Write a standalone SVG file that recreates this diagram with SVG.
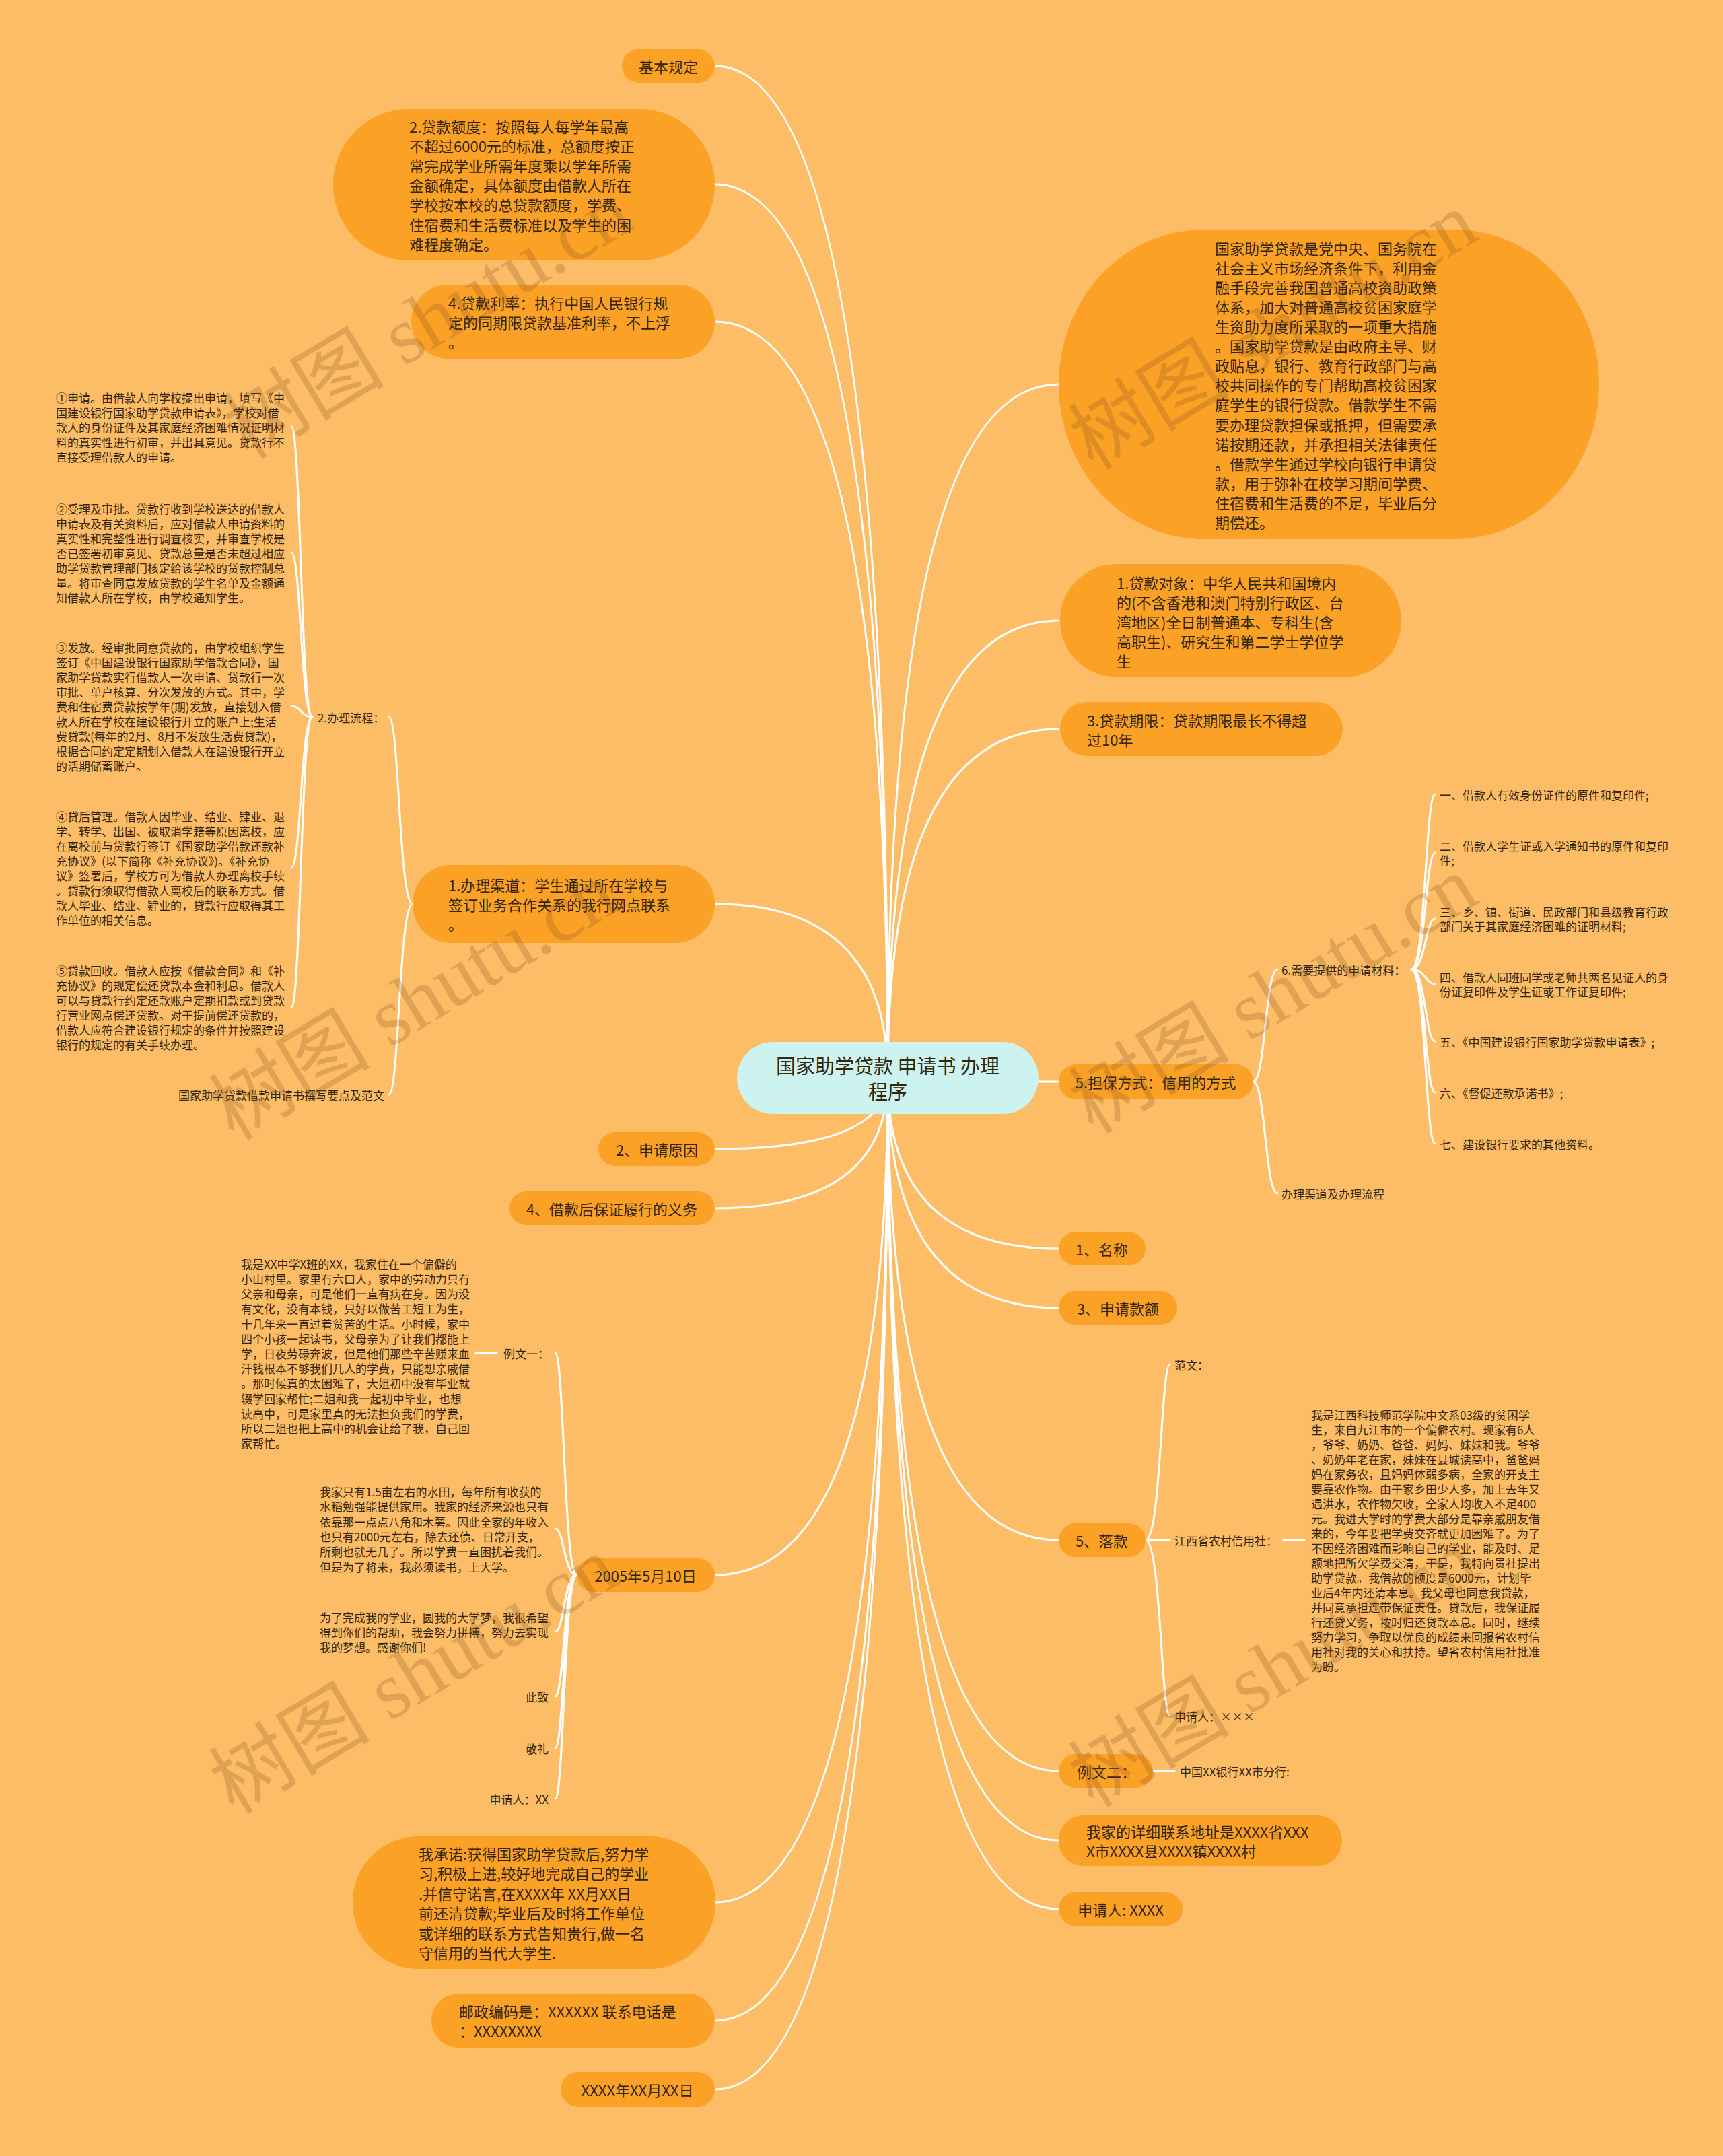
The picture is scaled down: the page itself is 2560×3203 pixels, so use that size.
<svg xmlns="http://www.w3.org/2000/svg" width="2560" height="3203" viewBox="0 0 2560 3203">
<style>
.bg{fill:#FDBC66}
.n{fill:#FAA126}
.t{font-family:"Noto Sans CJK SC","Noto Sans",sans-serif;fill:#33260F;dominant-baseline:central}
.m{font-size:22px}
.s{font-size:17px}
.c{fill:none;stroke:#FFFFFF;stroke-width:3;stroke-linecap:round}
.wm{font-family:"Liberation Serif","Noto Sans CJK SC",serif;font-size:120px;fill:#7A4A1A;opacity:0.22}
</style>
<rect class="bg" x="0" y="0" width="2560" height="3203"/>

<g id="connectors">
<path class="c" d="M1319 1601 Q1319 98 1062 98"/>
<path class="c" d="M1319 1601 Q1319 274 1062 274"/>
<path class="c" d="M1319 1601 Q1319 478 1062 478"/>
<path class="c" d="M1319 1601 Q1319 1343 1062 1343"/>
<path class="c" d="M1319 1601 Q1319 1707 1062 1707"/>
<path class="c" d="M1319 1601 Q1319 1795 1062 1795"/>
<path class="c" d="M1319 1601 Q1319 2340 1062 2340"/>
<path class="c" d="M1319 1601 Q1319 2826 1062 2826"/>
<path class="c" d="M1319 1601 Q1319 3002 1062 3002"/>
<path class="c" d="M1319 1601 Q1319 3104 1062 3104"/>
<path class="c" d="M1319 1601 Q1319 571 1573 571"/>
<path class="c" d="M1319 1601 Q1319 922 1573 922"/>
<path class="c" d="M1319 1601 Q1319 1083 1573 1083"/>
<path class="c" d="M1319 1601 Q1319 1607 1573 1607"/>
<path class="c" d="M1319 1601 Q1319 1855 1573 1855"/>
<path class="c" d="M1319 1601 Q1319 1943 1573 1943"/>
<path class="c" d="M1319 1601 Q1319 2288 1573 2288"/>
<path class="c" d="M1319 1601 Q1319 2631 1573 2631"/>
<path class="c" d="M1319 1601 Q1319 2734 1573 2734"/>
<path class="c" d="M1319 1601 Q1319 2836 1573 2836"/>
<!-- 1.办理渠道 children -->
<path class="c" d="M613 1343 C593 1343 593 1065 578 1065"/>
<path class="c" d="M613 1343 C593 1343 593 1626 578 1626"/>
<!-- 2.办理流程 children -->
<path class="c" d="M464 1065 C447 1065 447 634 433 634"/>
<path class="c" d="M464 1065 C447 1065 447 821 433 821"/>
<path class="c" d="M464 1065 C447 1065 447 1049 433 1049"/>
<path class="c" d="M464 1065 C447 1065 447 1289 433 1289"/>
<path class="c" d="M464 1065 C447 1065 447 1496 433 1496"/>
<!-- 5.担保方式 children -->
<path class="c" d="M1862 1607 C1880 1607 1880 1440 1898 1440"/>
<path class="c" d="M1862 1607 C1880 1607 1880 1773 1898 1773"/>
<!-- 6.需要提供 children -->
<path class="c" d="M2097 1440 C2118 1440 2118 1180 2132 1180"/>
<path class="c" d="M2097 1440 C2118 1440 2118 1267 2132 1267"/>
<path class="c" d="M2097 1440 C2118 1440 2118 1365 2132 1365"/>
<path class="c" d="M2097 1440 C2118 1440 2118 1462 2132 1462"/>
<path class="c" d="M2097 1440 C2118 1440 2118 1547 2132 1547"/>
<path class="c" d="M2097 1440 C2118 1440 2118 1623 2132 1623"/>
<path class="c" d="M2097 1440 C2118 1440 2118 1699 2132 1699"/>
<!-- 2005年5月10日 children -->
<path class="c" d="M857 2340 C838 2340 838 2010 825 2010"/>
<path class="c" d="M857 2340 C838 2340 838 2271 825 2271"/>
<path class="c" d="M857 2340 C838 2340 838 2424 825 2424"/>
<path class="c" d="M857 2340 C838 2340 838 2520 825 2520"/>
<path class="c" d="M857 2340 C838 2340 838 2597 825 2597"/>
<path class="c" d="M857 2340 C838 2340 838 2672 825 2672"/>
<path class="c" d="M738 2010 L707 2010"/>
<!-- 5、落款 children -->
<path class="c" d="M1702 2288 C1725 2288 1725 2027 1738 2027"/>
<path class="c" d="M1702 2288 L1738 2288"/>
<path class="c" d="M1702 2288 C1725 2288 1725 2549 1738 2549"/>
<path class="c" d="M1907 2288 L1938 2288"/>
<!-- 例文二 child -->
<path class="c" d="M1713 2631 L1745 2631"/>
</g>

<g id="root">
<rect x="1095" y="1548" width="448" height="107" rx="53.5" fill="#CDF3F0"/>
<text class="t" font-size="29" text-anchor="middle"><tspan x="1319" y="1582">国家助学贷款 申请书 办理</tspan><tspan x="1319" y="1620">程序</tspan></text>
</g>

<g id="n-jbgd"><rect class="n" x="924" y="73" width="138" height="50" rx="25"/><text class="t m" x="993" y="98" text-anchor="middle">基本规定</text></g>

<g id="n-dked"><rect class="n" x="495" y="162" width="567" height="225" rx="112"/>
<text class="t m"><tspan x="608" y="187">2.贷款额度：按照每人每学年最高</tspan><tspan x="608" y="216">不超过6000元的标准，总额度按正</tspan><tspan x="608" y="245">常完成学业所需年度乘以学年所需</tspan><tspan x="608" y="274">金额确定，具体额度由借款人所在</tspan><tspan x="608" y="303">学校按本校的总贷款额度，学费、</tspan><tspan x="608" y="333">住宿费和生活费标准以及学生的困</tspan><tspan x="608" y="362">难程度确定。</tspan></text></g>

<g id="n-dkll"><rect class="n" x="611" y="423" width="451" height="110" rx="55"/>
<text class="t m"><tspan x="666" y="449">4.贷款利率：执行中国人民银行规</tspan><tspan x="666" y="478">定的同期限贷款基准利率，不上浮</tspan><tspan x="666" y="507">。</tspan></text></g>

<g id="n-blqd"><rect class="n" x="613" y="1285" width="449" height="116" rx="58"/>
<text class="t m"><tspan x="666" y="1314">1.办理渠道：学生通过所在学校与</tspan><tspan x="666" y="1343">签订业务合作关系的我行网点联系</tspan><tspan x="666" y="1372">。</tspan></text></g>

<g id="n-bllc"><text class="t s" x="472" y="1065">2.办理流程：</text></g>
<g id="n-fw-title"><text class="t s" x="265" y="1626">国家助学贷款借款申请书撰写要点及范文</text></g>

<g id="n-p1"><text class="t s"><tspan x="83" y="590">①申请。由借款人向学校提出申请，填写《中</tspan><tspan x="83" y="612">国建设银行国家助学贷款申请表》，学校对借</tspan><tspan x="83" y="634">款人的身份证件及其家庭经济困难情况证明材</tspan><tspan x="83" y="656">料的真实性进行初审，并出具意见。贷款行不</tspan><tspan x="83" y="678">直接受理借款人的申请。</tspan></text></g>

<g id="n-p2"><text class="t s"><tspan x="83" y="755">②受理及审批。贷款行收到学校送达的借款人</tspan><tspan x="83" y="777">申请表及有关资料后，应对借款人申请资料的</tspan><tspan x="83" y="799">真实性和完整性进行调查核实，并审查学校是</tspan><tspan x="83" y="821">否已签署初审意见、贷款总量是否未超过相应</tspan><tspan x="83" y="843">助学贷款管理部门核定给该学校的贷款控制总</tspan><tspan x="83" y="865">量。将审查同意发放贷款的学生名单及金额通</tspan><tspan x="83" y="887">知借款人所在学校，由学校通知学生。</tspan></text></g>

<g id="n-p3"><text class="t s"><tspan x="83" y="961">③发放。经审批同意贷款的，由学校组织学生</tspan><tspan x="83" y="983">签订《中国建设银行国家助学借款合同》，国</tspan><tspan x="83" y="1005">家助学贷款实行借款人一次申请、贷款行一次</tspan><tspan x="83" y="1027">审批、单户核算、分次发放的方式。其中，学</tspan><tspan x="83" y="1049">费和住宿费贷款按学年(期)发放，直接划入借</tspan><tspan x="83" y="1071">款人所在学校在建设银行开立的账户上;生活</tspan><tspan x="83" y="1093">费贷款(每年的2月、8月不发放生活费贷款)，</tspan><tspan x="83" y="1115">根据合同约定定期划入借款人在建设银行开立</tspan><tspan x="83" y="1137">的活期储蓄账户。</tspan></text></g>

<g id="n-p4"><text class="t s"><tspan x="83" y="1212">④贷后管理。借款人因毕业、结业、肄业、退</tspan><tspan x="83" y="1234">学、转学、出国、被取消学籍等原因离校，应</tspan><tspan x="83" y="1256">在离校前与贷款行签订《国家助学借款还款补</tspan><tspan x="83" y="1278">充协议》(以下简称《补充协议》)。《补充协</tspan><tspan x="83" y="1300">议》签署后，学校方可为借款人办理离校手续</tspan><tspan x="83" y="1322">。贷款行须取得借款人离校后的联系方式。借</tspan><tspan x="83" y="1344">款人毕业、结业、肄业的，贷款行应取得其工</tspan><tspan x="83" y="1366">作单位的相关信息。</tspan></text></g>

<g id="n-p5"><text class="t s"><tspan x="83" y="1441">⑤贷款回收。借款人应按《借款合同》和《补</tspan><tspan x="83" y="1463">充协议》的规定偿还贷款本金和利息。借款人</tspan><tspan x="83" y="1485">可以与贷款行约定还款账户定期扣款或到贷款</tspan><tspan x="83" y="1507">行营业网点偿还贷款。对于提前偿还贷款的，</tspan><tspan x="83" y="1529">借款人应符合建设银行规定的条件并按照建设</tspan><tspan x="83" y="1551">银行的规定的有关手续办理。</tspan></text></g>

<g id="n-sqyy"><rect class="n" x="889" y="1682" width="173" height="50" rx="25"/><text class="t m" x="976" y="1707" text-anchor="middle">2、申请原因</text></g>
<g id="n-ywu"><rect class="n" x="757" y="1770" width="305" height="50" rx="25"/><text class="t m" x="909" y="1795" text-anchor="middle">4、借款后保证履行的义务</text></g>
<g id="n-2005"><rect class="n" x="857" y="2315" width="205" height="50" rx="25"/><text class="t m" x="959" y="2340" text-anchor="middle">2005年5月10日</text></g>

<g id="n-ly1"><text class="t s" x="748" y="2010">例文一：</text></g>
<g id="n-ly1-text"><text class="t s"><tspan x="358" y="1877">我是XX中学X班的XX，我家住在一个偏僻的</tspan><tspan x="358" y="1899">小山村里。家里有六口人，家中的劳动力只有</tspan><tspan x="358" y="1921">父亲和母亲，可是他们一直有病在身。因为没</tspan><tspan x="358" y="1943">有文化，没有本钱，只好以做苦工短工为生，</tspan><tspan x="358" y="1966">十几年来一直过着贫苦的生活。小时候，家中</tspan><tspan x="358" y="1988">四个小孩一起读书，父母亲为了让我们都能上</tspan><tspan x="358" y="2010">学，日夜劳碌奔波，但是他们那些辛苦赚来血</tspan><tspan x="358" y="2032">汗钱根本不够我们几人的学费，只能想亲戚借</tspan><tspan x="358" y="2054">。那时候真的太困难了，大姐初中没有毕业就</tspan><tspan x="358" y="2077">辍学回家帮忙;二姐和我一起初中毕业，也想</tspan><tspan x="358" y="2099">读高中，可是家里真的无法担负我们的学费，</tspan><tspan x="358" y="2121">所以二姐也把上高中的机会让给了我，自己回</tspan><tspan x="358" y="2143">家帮忙。</tspan></text></g>
<g id="n-wj"><text class="t s"><tspan x="475" y="2215">我家只有1.5亩左右的水田，每年所有收获的</tspan><tspan x="475" y="2237">水稻勉强能提供家用。我家的经济来源也只有</tspan><tspan x="475" y="2260">依靠那一点点八角和木薯。因此全家的年收入</tspan><tspan x="475" y="2282">也只有2000元左右，除去还债、日常开支，</tspan><tspan x="475" y="2304">所剩也就无几了。所以学费一直困扰着我们。</tspan><tspan x="475" y="2327">但是为了将来，我必须读书，上大学。</tspan></text></g>
<g id="n-wl"><text class="t s"><tspan x="475" y="2402">为了完成我的学业，圆我的大学梦，我很希望</tspan><tspan x="475" y="2424">得到你们的帮助，我会努力拼搏，努力去实现</tspan><tspan x="475" y="2446">我的梦想。感谢你们!</tspan></text></g>
<g id="n-cz"><text class="t s" x="815" y="2520" text-anchor="end">此致</text></g>
<g id="n-jl"><text class="t s" x="815" y="2597" text-anchor="end">敬礼</text></g>
<g id="n-sqr1"><text class="t s" x="815" y="2672" text-anchor="end">申请人：XX</text></g>

<g id="n-cn"><rect class="n" x="524" y="2728" width="539" height="197" rx="98"/>
<text class="t m"><tspan x="622" y="2753">我承诺:获得国家助学贷款后,努力学</tspan><tspan x="622" y="2782">习,积极上进,较好地完成自己的学业</tspan><tspan x="622" y="2812">.并信守诺言,在XXXX年 XX月XX日</tspan><tspan x="622" y="2841">前还清贷款;毕业后及时将工作单位</tspan><tspan x="622" y="2871">或详细的联系方式告知贵行,做一名</tspan><tspan x="622" y="2900">守信用的当代大学生.</tspan></text></g>
<g id="n-yb"><rect class="n" x="641" y="2962" width="421" height="80" rx="40"/>
<text class="t m"><tspan x="682" y="2987">邮政编码是：XXXXXX 联系电话是</tspan><tspan x="682" y="3016">：XXXXXXXX</tspan></text></g>
<g id="n-date"><rect class="n" x="833" y="3078" width="229" height="52" rx="26"/><text class="t m" x="947" y="3104" text-anchor="middle">XXXX年XX月XX日</text></g>

<g id="n-intro"><rect class="n" x="1573" y="341" width="803" height="460" rx="215" ry="230"/>
<text class="t m"><tspan x="1805" y="368">国家助学贷款是党中央、国务院在</tspan><tspan x="1805" y="397">社会主义市场经济条件下，利用金</tspan><tspan x="1805" y="426">融手段完善我国普通高校资助政策</tspan><tspan x="1805" y="455">体系，加大对普通高校贫困家庭学</tspan><tspan x="1805" y="484">生资助力度所采取的一项重大措施</tspan><tspan x="1805" y="513">。国家助学贷款是由政府主导、财</tspan><tspan x="1805" y="542">政贴息，银行、教育行政部门与高</tspan><tspan x="1805" y="571">校共同操作的专门帮助高校贫困家</tspan><tspan x="1805" y="600">庭学生的银行贷款。借款学生不需</tspan><tspan x="1805" y="630">要办理贷款担保或抵押，但需要承</tspan><tspan x="1805" y="659">诺按期还款，并承担相关法律责任</tspan><tspan x="1805" y="688">。借款学生通过学校向银行申请贷</tspan><tspan x="1805" y="717">款，用于弥补在校学习期间学费、</tspan><tspan x="1805" y="746">住宿费和生活费的不足，毕业后分</tspan><tspan x="1805" y="775">期偿还。</tspan></text></g>

<g id="n-dkdx"><rect class="n" x="1575" y="838" width="507" height="168" rx="84"/>
<text class="t m"><tspan x="1659" y="865">1.贷款对象：中华人民共和国境内</tspan><tspan x="1659" y="894">的(不含香港和澳门特别行政区、台</tspan><tspan x="1659" y="923">湾地区)全日制普通本、专科生(含</tspan><tspan x="1659" y="952">高职生)、研究生和第二学士学位学</tspan><tspan x="1659" y="981">生</tspan></text></g>

<g id="n-dkqx"><rect class="n" x="1575" y="1043" width="420" height="80" rx="40"/>
<text class="t m"><tspan x="1615" y="1069">3.贷款期限：贷款期限最长不得超</tspan><tspan x="1615" y="1098">过10年</tspan></text></g>

<g id="n-dbfs"><rect class="n" x="1573" y="1581" width="289" height="52" rx="26"/><text class="t m" x="1717" y="1607" text-anchor="middle">5.担保方式：信用的方式</text></g>
<g id="n-xytg"><text class="t s" x="1904" y="1440">6.需要提供的申请材料：</text></g>
<g id="n-blqdlc"><text class="t s" x="1904" y="1773">办理渠道及办理流程</text></g>
<g id="n-i1"><text class="t s" x="2139" y="1180">一、借款人有效身份证件的原件和复印件;</text></g>
<g id="n-i2"><text class="t s"><tspan x="2139" y="1256">二、借款人学生证或入学通知书的原件和复印</tspan><tspan x="2139" y="1277">件;</tspan></text></g>
<g id="n-i3"><text class="t s"><tspan x="2139" y="1354">三、乡、镇、街道、民政部门和县级教育行政</tspan><tspan x="2139" y="1375">部门关于其家庭经济困难的证明材料;</tspan></text></g>
<g id="n-i4"><text class="t s"><tspan x="2139" y="1451">四、借款人同班同学或老师共两名见证人的身</tspan><tspan x="2139" y="1472">份证复印件及学生证或工作证复印件;</tspan></text></g>
<g id="n-i5"><text class="t s" x="2139" y="1547">五、《中国建设银行国家助学贷款申请表》;</text></g>
<g id="n-i6"><text class="t s" x="2139" y="1623">六、《督促还款承诺书》;</text></g>
<g id="n-i7"><text class="t s" x="2139" y="1699">七、建设银行要求的其他资料。</text></g>

<g id="n-mc"><rect class="n" x="1573" y="1830" width="129" height="50" rx="25"/><text class="t m" x="1637" y="1855" text-anchor="middle">1、名称</text></g>
<g id="n-sqke"><rect class="n" x="1573" y="1918" width="176" height="50" rx="25"/><text class="t m" x="1661" y="1943" text-anchor="middle">3、申请款额</text></g>
<g id="n-lk"><rect class="n" x="1573" y="2263" width="129" height="50" rx="25"/><text class="t m" x="1637" y="2288" text-anchor="middle">5、落款</text></g>
<g id="n-fw"><text class="t s" x="1745" y="2027">范文：</text></g>
<g id="n-jx"><text class="t s" x="1745" y="2288">江西省农村信用社：</text></g>
<g id="n-sqr2"><text class="t s" x="1745" y="2549">申请人：×××</text></g>
<g id="n-jx-text"><text class="t s"><tspan x="1948" y="2101">我是江西科技师范学院中文系03级的贫困学</tspan><tspan x="1948" y="2123">生，来自九江市的一个偏僻农村。现家有6人</tspan><tspan x="1948" y="2145">，爷爷、奶奶、爸爸、妈妈、妹妹和我。爷爷</tspan><tspan x="1948" y="2167">、奶奶年老在家，妹妹在县城读高中，爸爸妈</tspan><tspan x="1948" y="2189">妈在家务农，且妈妈体弱多病，全家的开支主</tspan><tspan x="1948" y="2211">要靠农作物。由于家乡田少人多，加上去年又</tspan><tspan x="1948" y="2233">遇洪水，农作物欠收，全家人均收入不足400</tspan><tspan x="1948" y="2255">元。我进大学时的学费大部分是靠亲戚朋友借</tspan><tspan x="1948" y="2277">来的，今年要把学费交齐就更加困难了。为了</tspan><tspan x="1948" y="2299">不因经济困难而影响自己的学业，能及时、足</tspan><tspan x="1948" y="2321">额地把所欠学费交清，于是，我特向贵社提出</tspan><tspan x="1948" y="2343">助学贷款。我借款的额度是6000元，计划毕</tspan><tspan x="1948" y="2365">业后4年内还清本息。我父母也同意我贷款，</tspan><tspan x="1948" y="2387">并同意承担连带保证责任。贷款后，我保证履</tspan><tspan x="1948" y="2409">行还贷义务，按时归还贷款本息。同时，继续</tspan><tspan x="1948" y="2431">努力学习，争取以优良的成绩来回报省农村信</tspan><tspan x="1948" y="2453">用社对我的关心和扶持。望省农村信用社批准</tspan><tspan x="1948" y="2475">为盼。</tspan></text></g>

<g id="n-ly2"><rect class="n" x="1573" y="2606" width="140" height="50" rx="25"/><text class="t m" x="1600" y="2631">例文二：</text></g>
<g id="n-bank"><text class="t s" x="1753" y="2631">中国XX银行XX市分行:</text></g>
<g id="n-addr"><rect class="n" x="1573" y="2697" width="421" height="75" rx="37"/>
<text class="t m"><tspan x="1614" y="2720">我家的详细联系地址是XXXX省XXX</tspan><tspan x="1614" y="2749">X市XXXX县XXXX镇XXXX村</tspan></text></g>
<g id="n-sqr3"><rect class="n" x="1573" y="2811" width="184" height="50" rx="25"/><text class="t m" x="1665" y="2836" text-anchor="middle">申请人: XXXX</text></g>

<g id="watermark">
<text class="wm" transform="translate(368 684) rotate(-31)">树图 shutu.cn</text>
<text class="wm" transform="translate(1624 700) rotate(-31)">树图 shutu.cn</text>
<text class="wm" transform="translate(347 1696) rotate(-31)">树图 shutu.cn</text>
<text class="wm" transform="translate(1624 1686) rotate(-31)">树图 shutu.cn</text>
<text class="wm" transform="translate(347 2697) rotate(-31)">树图 shutu.cn</text>
<text class="wm" transform="translate(1624 2687) rotate(-31)">树图 shutu.cn</text>
</g>
</svg>
